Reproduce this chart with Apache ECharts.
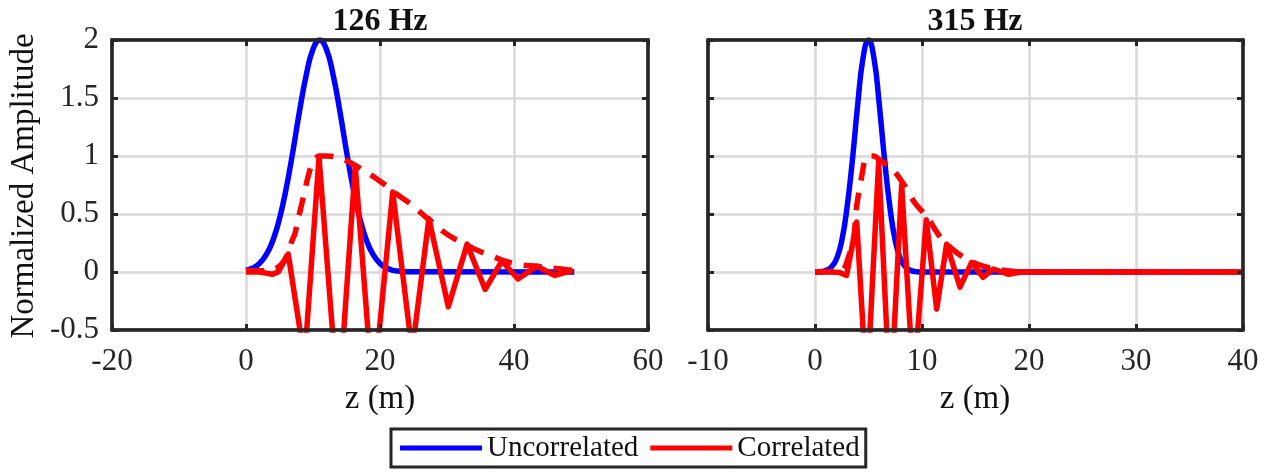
<!DOCTYPE html>
<html><head><meta charset="utf-8">
<script src="https://cdn.jsdelivr.net/npm/echarts@6/dist/echarts.min.js"></script>
<style>html,body{margin:0;padding:0;background:#fff}#c{width:1270px;height:472px}</style>
</head><body><div id="c"></div>
<script>
// ---------- data ----------
const titles = ['126 Hz', '315 Hz'];
const yTicks = [-0.5, 0, 0.5, 1, 1.5, 2];
const xTicksLeft = [-20, 0, 20, 40, 60];
const xTicksRight = [-10, 0, 10, 20, 30, 40];

// 126 Hz panel
const leftUncorrZ = [0,1,2,3,4,5,6,7,8,9,10,11,12,13,14,15,16,17,18,19,20,21,22,23,24,49];
const leftUncorrV = [0.014,0.034,0.073,0.147,0.27,0.46,0.72,1.04,1.39,1.70,1.92,2.0,1.92,1.70,1.39,1.04,0.72,0.46,0.27,0.147,0.073,0.034,0.014,0.006,0.002,0];
const leftCorrZ = [0,2,3,3.9,4.8,5.6,6.3,8.06,8.65,9.06,10.9,12.9,13.75,14.6,16.3,18.2,19.0,19.9,21.9,24.4,24.8,25.2,27.3,30.2,33.0,35.7,38.2,40.6,43.4,46.1,48.8];
const leftCorrV = [0,0,-0.01,-0.02,0.0,0.08,0.155,-0.5,-0.72,-0.5,0.99,-0.5,-1.0,-0.5,0.91,-0.5,-0.85,-0.5,0.69,-0.5,-0.56,-0.5,0.46,-0.30,0.24,-0.15,0.095,-0.06,0.05,-0.03,0.015];
const leftEnvZ = [0,3,4.5,5.5,6.3,6.8,7.3,7.8,8.5,9.3,10,10.9,12,13.6,15,16.3,18,19.3,21,22,24.5,26.7,28,29.4,31,32.2,33,35.2,37.9,39.5,41.3,43.4,45.5,47,48.8];
const leftEnvV = [0.01,0.01,0.03,0.08,0.17,0.26,0.33,0.46,0.63,0.83,0.95,1.0,1.0,0.99,0.96,0.92,0.86,0.81,0.74,0.69,0.59,0.48,0.42,0.35,0.29,0.26,0.23,0.17,0.11,0.08,0.06,0.05,0.035,0.025,0.015];

// 315 Hz panel
const rightUncorrZ = [0,0.5,1,1.5,2,2.5,3,3.5,4,4.5,5,5.5,6,6.5,7,7.5,8,8.5,9,9.5,10,40];
const rightUncorrV = [0,0.003,0.012,0.04,0.11,0.27,0.56,0.97,1.45,1.85,2.0,1.85,1.45,0.97,0.56,0.27,0.11,0.04,0.012,0.003,0,0];
const rightCorrZ = [0,1.5,2.3,2.95,3.9,4.5,4.82,5.14,5.95,6.7,7.05,7.4,8.1,8.9,9.25,9.6,10.4,11.37,12.3,13.55,14.64,15.7,16.66,18.1,19.2,40];
const rightCorrV = [0,0,-0.005,-0.03,0.43,-0.5,-0.98,-0.5,0.95,-0.5,-0.95,-0.5,0.75,-0.5,-0.8,-0.5,0.45,-0.32,0.24,-0.13,0.083,-0.046,0.026,-0.02,0,0];
const rightEnvZ = [0,2.5,3.1,3.45,3.65,3.9,4.36,4.7,5.0,5.5,6.0,7.2,8.2,9.3,10.5,11.8,13.2,14.6,15.7,16.7,18,19.5,40];
const rightEnvV = [0,0.01,0.12,0.23,0.31,0.57,0.82,0.98,1.0,1.0,0.97,0.89,0.77,0.6,0.47,0.29,0.17,0.09,0.05,0.03,0.01,0,0];

// ---------- chart ----------
const FONT = '"Liberation Serif", "Times New Roman", serif';
const DARK = '#262626';
const BLUE = '#0000ff';
const RED = '#ff0000';
function zip(z, v) { return z.map((x, i) => [x, v[i]]); }

const grids = [
  { left: 112, top: 40, width: 536, height: 290 },
  { left: 708, top: 40, width: 535, height: 290 }
];
const xTickSets = [xTicksLeft, xTicksRight];

const xAxis = [], yAxis = [];
// primary axes (labels + grid lines, drawn under data)
grids.forEach((g, gi) => {
  const xt = xTickSets[gi];
  xAxis.push({
    type: 'value', gridIndex: gi, position: 'bottom',
    min: xt[0], max: xt[xt.length - 1], interval: xt[1] - xt[0],
    axisLine: { show: false, onZero: false }, axisTick: { show: false },
    splitLine: { show: true, lineStyle: { color: '#d9d9d9', width: 2.5 } },
    axisLabel: { fontFamily: FONT, fontSize: 31, color: DARK, margin: 16 },
    z: 0
  });
  yAxis.push({
    type: 'value', gridIndex: gi, position: 'left',
    min: yTicks[0], max: yTicks[yTicks.length - 1], interval: yTicks[1] - yTicks[0],
    axisLine: { show: false, onZero: false }, axisTick: { show: false },
    splitLine: { show: true, lineStyle: { color: '#d9d9d9', width: 2.5 } },
    axisLabel: { show: gi === 0, fontFamily: FONT, fontSize: 31, color: DARK, margin: 13 },
    z: 0
  });
});
// border axes (box + inward ticks, drawn above data)
grids.forEach((g, gi) => {
  const xt = xTickSets[gi];
  ['bottom', 'top'].forEach(pos => xAxis.push({
    type: 'value', gridIndex: gi, position: pos,
    min: xt[0], max: xt[xt.length - 1], interval: xt[1] - xt[0],
    axisLine: { show: true, onZero: false, lineStyle: { color: DARK, width: 3.5 } },
    axisTick: { show: true, inside: true, length: 6, lineStyle: { color: DARK, width: 3 } },
    axisLabel: { show: false }, splitLine: { show: false }, z: 5
  }));
  ['left', 'right'].forEach(pos => yAxis.push({
    type: 'value', gridIndex: gi, position: pos,
    min: yTicks[0], max: yTicks[yTicks.length - 1], interval: yTicks[1] - yTicks[0],
    axisLine: { show: true, onZero: false, lineStyle: { color: DARK, width: 3.5 } },
    axisTick: { show: true, inside: true, length: 6, lineStyle: { color: DARK, width: 3 } },
    axisLabel: { show: false }, splitLine: { show: false }, z: 5
  }));
});

function lineSeries(name, gi, data, color, dashed, smooth) {
  return {
    name: name, type: 'line', xAxisIndex: gi, yAxisIndex: gi, data: data,
    showSymbol: false, symbol: 'none', smooth: smooth, clip: true,
    lineStyle: { color: color, width: 5.5, type: dashed ? [18, 12] : 'solid', cap: 'butt', join: 'round' },
    itemStyle: { color: color }, z: 2, silent: true
  };
}

const series = [
  lineSeries('Uncorrelated', 0, zip(leftUncorrZ, leftUncorrV), BLUE, false, true),
  lineSeries('Correlated envelope', 0, zip(leftEnvZ, leftEnvV), RED, true, 0.3),
  lineSeries('Correlated', 0, zip(leftCorrZ, leftCorrV), RED, false, false),
  lineSeries('Uncorrelated', 1, zip(rightUncorrZ, rightUncorrV), BLUE, false, true),
  lineSeries('Correlated envelope', 1, zip(rightEnvZ, rightEnvV), RED, true, 0.3),
  lineSeries('Correlated', 1, zip(rightCorrZ, rightCorrV), RED, false, false)
];

function txt(text, x, y, size, bold, rot) {
  return {
    type: 'text', x: x, y: y, rotation: rot || 0,
    style: {
      text: text, fontFamily: FONT, fontSize: size, fontWeight: bold ? 'bold' : 'normal',
      fill: '#111', textAlign: 'center', textVerticalAlign: 'middle',
      align: 'center', verticalAlign: 'middle'
    }, z: 10
  };
}

const chart = echarts.init(document.getElementById('c'), null, { renderer: 'canvas' });
chart.setOption({
  animation: false,
  backgroundColor: '#ffffff',
  grid: grids.map(g => Object.assign({ show: true, borderColor: DARK, borderWidth: 3, backgroundColor: '#fff' }, g)),
  xAxis: xAxis,
  yAxis: yAxis,
  legend: {
    data: [{ name: 'Uncorrelated', icon: 'rect' }, { name: 'Correlated', icon: 'rect' }],
    left: 391, top: 429, orient: 'horizontal',
    itemWidth: 82, itemHeight: 5, itemGap: 12,
    padding: [3, 6, 3, 9],
    borderColor: DARK, borderWidth: 3, backgroundColor: '#fff',
    selectedMode: false,
    textStyle: { fontFamily: FONT, fontSize: 29, color: '#111', lineHeight: 32 }
  },
  graphic: [
    txt(titles[0], 380, 22, 32, true),
    txt(titles[1], 975, 22, 32, true),
    txt('z (m)', 380, 399, 33, false),
    txt('z (m)', 975, 399, 33, false),
    txt('Normalized Amplitude', 24, 186, 33, false, Math.PI / 2)
  ],
  series: series
});
</script>
</body></html>
